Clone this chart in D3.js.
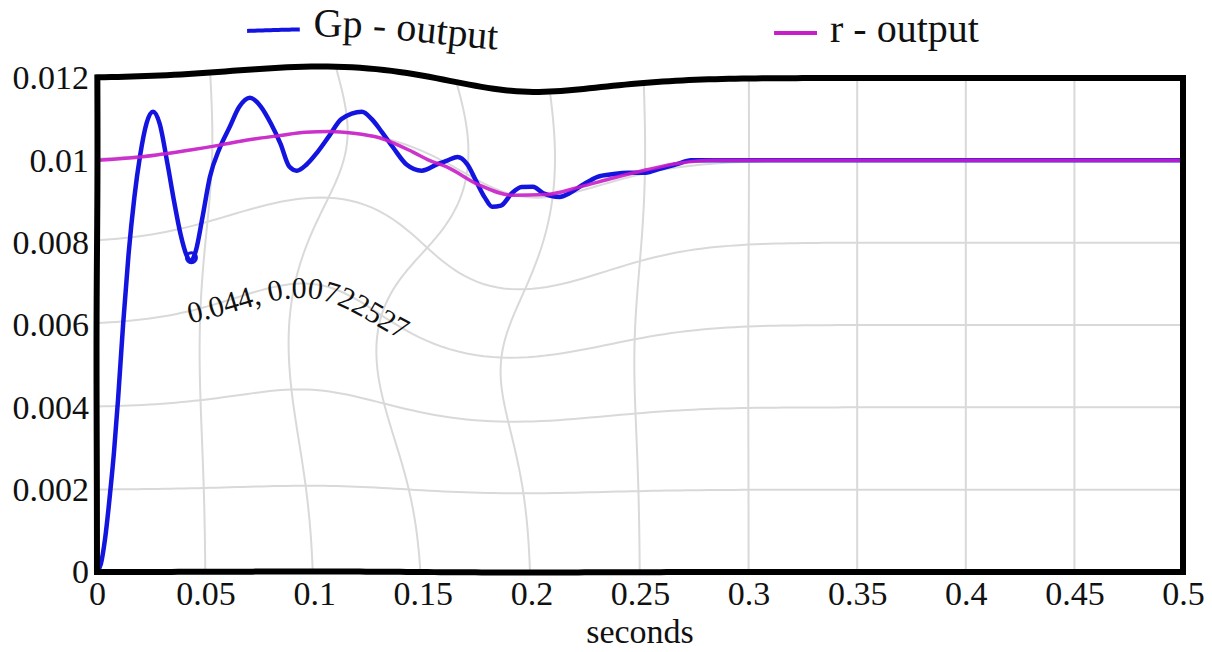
<!DOCTYPE html>
<html>
<head>
<meta charset="utf-8">
<script src="https://cdn.jsdelivr.net/npm/d3@7"></script>
<style>
  html, body { margin: 0; padding: 0; background: #fff; }
  svg { display: block; }
</style>
</head>
<body>
<svg id="chart"></svg>
<script>
// values
const gpTime = [0, 0.0018, 0.0037, 0.006, 0.0078, 0.0097, 0.012, 0.0145, 0.0172, 0.0198,
  0.0228, 0.0258, 0.0288, 0.0325, 0.0355, 0.0385, 0.0412, 0.0431, 0.0455, 0.0485,
  0.052, 0.0565, 0.061, 0.0655, 0.0704, 0.0755, 0.080, 0.0845, 0.0885, 0.092,
  0.0965, 0.1015, 0.107, 0.1125, 0.122, 0.1265, 0.131, 0.1365, 0.1425, 0.1495,
  0.1565, 0.1615, 0.166, 0.1705, 0.1745, 0.1785, 0.182, 0.186, 0.191, 0.1955,
  0.2007, 0.2055, 0.213, 0.2175, 0.2235, 0.2305, 0.237, 0.2445, 0.2525, 0.2595,
  0.2665, 0.2735, 0.2795, 0.295, 0.5];
const gpValue = [0, 0.0002, 0.0008, 0.0019, 0.0029, 0.0042, 0.006, 0.0077, 0.0091, 0.0101,
  0.0109, 0.01118, 0.0109, 0.0099, 0.009, 0.0082, 0.0077, 0.00755, 0.0078, 0.0086,
  0.0096, 0.0103, 0.0108, 0.0113, 0.01152, 0.0113, 0.0109, 0.0104, 0.00985, 0.00975,
  0.0099, 0.0102, 0.0106, 0.011, 0.01118, 0.011, 0.0107, 0.0103, 0.0099, 0.00975,
  0.0099, 0.01, 0.01008, 0.0099, 0.0095, 0.0091, 0.00887, 0.0089, 0.0092, 0.00935,
  0.00936, 0.0092, 0.00911, 0.0092, 0.0094, 0.0096, 0.00966, 0.0097, 0.0097, 0.0098,
  0.0099, 0.01, 0.01, 0.01, 0.01];

const rTime = [0, 0.02, 0.043, 0.0566, 0.07, 0.084, 0.096, 0.107, 0.118, 0.13, 0.1455,
  0.153, 0.161, 0.176, 0.1915, 0.207, 0.222, 0.2376, 0.253, 0.268, 0.284, 0.5];
const rValue = [0.01, 0.01008, 0.01025, 0.01037, 0.0105, 0.0106, 0.01068, 0.0107, 0.01066,
  0.01055, 0.0102, 0.01, 0.00984, 0.0094, 0.00915, 0.00917, 0.00935, 0.00957, 0.00977,
  0.00993, 0.01, 0.01];

const xTicks = [0, 0.05, 0.1, 0.15, 0.2, 0.25, 0.3, 0.35, 0.4, 0.45, 0.5];
const yTicks = [0, 0.002, 0.004, 0.006, 0.008, 0.01, 0.012];
const seriesNames = ['Gp - output', 'r - output'];
const seriesColors = ['#1414e0', '#c81ec8'];
const tipPoint = [0.044, 0.00722527];
const xLabel = 'seconds';

const width = 1212, height = 652;
const serif = "'Liberation Serif', 'Times New Roman', serif";

const svg = d3.select('#chart').attr('width', width).attr('height', height);

const x = d3.scaleLinear().domain([0, 0.5]).range([97, 1183]);
const y = d3.scaleLinear().domain([0, 0.012]).range([572, 78]);

// the picture is twisted round a spot in the middle of the plot
const swirl = { t: 0.148, v: 0.0078, radius: 150, angle: 0.74 };
const cx = x(swirl.t), cy = y(swirl.v);
function warp(p) {
  const dx = p[0] - cx, dy = p[1] - cy;
  const a = swirl.angle * Math.exp(-(dx * dx + dy * dy) / (swirl.radius * swirl.radius));
  const c = Math.cos(a), s = Math.sin(a);
  return [cx + dx * c - dy * s, cy + dx * s + dy * c];
}
function warpedSegment(a, b, n = 160) {
  return d3.range(n + 1).map(i => warp([
    a[0] + (b[0] - a[0]) * i / n,
    a[1] + (b[1] - a[1]) * i / n
  ]));
}
const straight = d3.line();

// grid
const grid = svg.append('g')
  .attr('fill', 'none')
  .attr('stroke', '#d9d9d9')
  .attr('stroke-width', 2);
grid.selectAll('path.v')
  .data(xTicks.slice(1, -1))
  .join('path')
  .attr('class', 'v')
  .attr('d', t => straight(warpedSegment([x(t), y(0)], [x(t), y(0.012)])));
grid.selectAll('path.h')
  .data(yTicks.slice(1, -1))
  .join('path')
  .attr('class', 'h')
  .attr('d', v => straight(warpedSegment([x(0), y(v)], [x(0.5), y(v)])));

// curves
const curve = d3.line()
  .x(d => x(d[0]))
  .y(d => y(d[1]))
  .curve(d3.curveMonotoneX);

svg.append('path')
  .datum(d3.zip(gpTime, gpValue))
  .attr('fill', 'none')
  .attr('stroke', seriesColors[0])
  .attr('stroke-width', 4.5)
  .attr('stroke-linejoin', 'round')
  .attr('d', curve);

svg.append('path')
  .datum(d3.zip(rTime, rValue))
  .attr('fill', 'none')
  .attr('stroke', seriesColors[1])
  .attr('stroke-opacity', 0.9)
  .attr('stroke-width', 3.5)
  .attr('stroke-linejoin', 'round')
  .attr('d', curve);

// frame
const corners = [[x(0), y(0.012)], [x(0.5), y(0.012)], [x(0.5), y(0)], [x(0), y(0)]];
const framePts = corners.flatMap((c, i) => warpedSegment(c, corners[(i + 1) % 4]));
svg.append('path')
  .attr('d', straight(framePts) + 'Z')
  .attr('fill', 'none')
  .attr('stroke', '#000')
  .attr('stroke-width', 6);

// data tip
const tipPx = warp([x(tipPoint[0]), y(tipPoint[1])]);
svg.append('circle')
  .attr('cx', tipPx[0])
  .attr('cy', tipPx[1])
  .attr('r', 5)
  .attr('fill', 'none')
  .attr('stroke', seriesColors[0])
  .attr('stroke-width', 3);

const tipBase = [x(tipPoint[0]) + 2, y(tipPoint[1]) + 62];
svg.append('path')
  .attr('id', 'tipPath')
  .attr('fill', 'none')
  .attr('d', straight(warpedSegment(tipBase, [tipBase[0] + 300, tipBase[1]])));
svg.append('text')
  .style('font-family', serif)
  .attr('font-size', 30)
  .attr('fill', '#111')
  .append('textPath')
  .attr('href', '#tipPath')
  .text(`${tipPoint[0]}, ${tipPoint[1]}`);

// axes
const xAxis = svg.append('g')
  .attr('transform', `translate(0,${y(0)})`)
  .call(d3.axisBottom(x).tickValues(xTicks).tickSize(0).tickPadding(9).tickFormat(d => String(d)));
const yAxis = svg.append('g')
  .attr('transform', `translate(${x(0)},0)`)
  .call(d3.axisLeft(y).tickValues(yTicks).tickSize(0).tickPadding(8).tickFormat(d => String(d)));
[xAxis, yAxis].forEach(g => {
  g.select('.domain').remove();
  g.attr('font-size', 34);
  g.selectAll('text').style('font-family', serif).attr('fill', '#111');
});

svg.append('text')
  .attr('x', x(0.25))
  .attr('y', 643)
  .attr('text-anchor', 'middle')
  .style('font-family', serif)
  .attr('font-size', 34)
  .attr('fill', '#111')
  .text(xLabel);

// legend
const legendSpots = [
  { swatch: [[242, 35], [290, 35]], text: [301, 43] },
  { swatch: [[774, 33], [817, 33]], text: [830, 42] }
];
legendSpots.forEach((spot, i) => {
  svg.append('path')
    .attr('d', straight(warpedSegment(spot.swatch[0], spot.swatch[1], 20)))
    .attr('fill', 'none')
    .attr('stroke', seriesColors[i])
    .attr('stroke-width', 4);
  svg.append('path')
    .attr('id', 'legendPath' + i)
    .attr('fill', 'none')
    .attr('d', straight(warpedSegment(spot.text, [spot.text[0] + 260, spot.text[1]], 60)));
  svg.append('text')
    .style('font-family', serif)
    .attr('font-size', 40)
    .attr('fill', '#111')
    .append('textPath')
    .attr('href', '#legendPath' + i)
    .text(seriesNames[i]);
});
</script>
</body>
</html>
